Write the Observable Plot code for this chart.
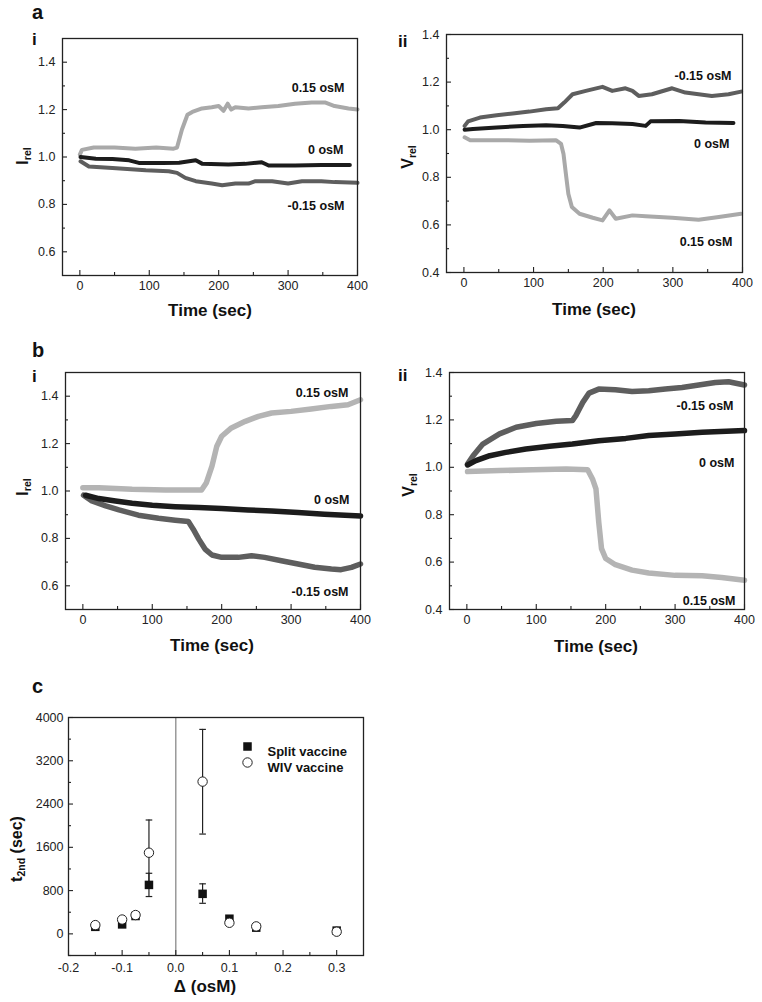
<!DOCTYPE html>
<html><head><meta charset="utf-8">
<script src="https://cdn.jsdelivr.net/npm/d3@7"></script>
<script src="https://cdn.jsdelivr.net/npm/@observablehq/plot@0.6"></script>
<style>
body{margin:0;background:#fff;}
#fig{position:relative;width:762px;height:1002px;overflow:hidden;background:#fff;font-family:"Liberation Sans",Arial,Helvetica,sans-serif;}
.panel{position:absolute}
#overlay{position:absolute;left:0;top:0;pointer-events:none}
</style></head><body><div id="fig"></div>
<script>
// ---------- Data: panel a-i (I_rel) ----------
const a1_t_p = [0,3,20,50,80,110,135,140,147,155,162,176,190,200,207,213,218,224,243,262,286,310,334,353,367,387,400];
const a1_v_p = [1.01,1.03,1.04,1.04,1.035,1.04,1.035,1.04,1.115,1.178,1.19,1.205,1.21,1.215,1.195,1.225,1.2,1.21,1.205,1.21,1.215,1.225,1.23,1.23,1.215,1.205,1.2];
const a1_t_0 = [1,23,47,71,85,119,143,167,176,214,238,262,272,310,348,389];
const a1_v_0 = [1.0,0.993,0.992,0.986,0.975,0.975,0.976,0.986,0.972,0.968,0.971,0.978,0.964,0.964,0.966,0.966];
const a1_t_m = [1,13,47,95,128,140,152,167,190,205,224,243,253,277,300,320,348,367,400];
const a1_v_m = [0.982,0.96,0.954,0.944,0.94,0.933,0.912,0.898,0.888,0.881,0.888,0.888,0.898,0.898,0.888,0.898,0.898,0.894,0.891];
// ---------- Data: panel a-ii (V_rel) ----------
const a2_t_m = [1,6,23,47,70,94,118,135,144,156,175,199,213,232,242,251,270,299,318,337,356,380,398];
const a2_v_m = [1.016,1.035,1.051,1.061,1.068,1.076,1.086,1.09,1.114,1.149,1.163,1.18,1.163,1.174,1.163,1.142,1.149,1.174,1.156,1.149,1.142,1.149,1.16];
const a2_t_0 = [1,13,47,85,118,142,166,190,213,242,261,268,309,347,387];
const a2_v_0 = [1.0,1.003,1.009,1.016,1.019,1.016,1.009,1.028,1.027,1.024,1.016,1.035,1.037,1.03,1.028];
const a2_t_p = [1,9,47,94,132,139.5,143,147,150,155,166,185,199,209,218,242,261,299,337,366,398];
const a2_v_p = [0.968,0.956,0.956,0.954,0.956,0.94,0.898,0.8,0.73,0.675,0.647,0.63,0.619,0.661,0.626,0.64,0.636,0.63,0.622,0.633,0.647];
// ---------- Data: panel b-i (I_rel) ----------
const b1_t_p = [0,23,71,119,171,178,186,193,200,214,234,253,272,300,329,358,382,400];
const b1_v_p = [1.014,1.014,1.007,1.004,1.004,1.035,1.105,1.189,1.231,1.266,1.294,1.315,1.329,1.336,1.346,1.357,1.364,1.385];
const b1_t_0 = [4,23,47,71,100,133,167,200,238,272,310,348,400];
const b1_v_0 = [0.982,0.968,0.958,0.948,0.94,0.934,0.93,0.926,0.92,0.916,0.909,0.902,0.895];
const b1_t_m = [1,13,33,52,80,109,133,152,159,167,176,186,200,224,243,262,286,310,334,358,372,387,400];
const b1_v_m = [0.982,0.958,0.937,0.92,0.898,0.885,0.877,0.871,0.839,0.797,0.755,0.73,0.72,0.72,0.727,0.72,0.706,0.692,0.678,0.671,0.668,0.678,0.692];
// ---------- Data: panel b-ii (V_rel) ----------
const b2_t_m = [1,9,23,47,71,100,129,152,157,167,176,190,214,238,262,286,310,334,358,377,400];
const b2_v_m = [1.014,1.049,1.098,1.141,1.169,1.185,1.194,1.197,1.218,1.274,1.313,1.33,1.327,1.32,1.323,1.33,1.337,1.347,1.358,1.361,1.347];
const b2_t_0 = [1,13,33,56,85,119,152,190,229,262,300,339,400];
const b2_v_0 = [1.01,1.028,1.049,1.063,1.077,1.089,1.098,1.112,1.122,1.134,1.141,1.148,1.155];
const b2_t_p = [1,47,95,143,174,181,186,190,194,200,214,238,262,300,339,367,400];
const b2_v_p = [0.982,0.986,0.99,0.993,0.99,0.951,0.909,0.769,0.657,0.615,0.589,0.566,0.554,0.544,0.542,0.535,0.523];
// ---------- Data: panel c ----------
const cDelta = [-0.15,-0.1,-0.075,-0.05,0.05,0.1,0.15,0.3];
const splitT = [130,175,330,905,740,280,115,60];
const wivT   = [162,265,348,1500,2815,205,138,40];
const splitErrX = [-0.05,0.05], splitErrLo = [690,565],  splitErrHi = [1120,925];
const wivErrX   = [-0.05,0.05], wivErrLo   = [900,1845], wivErrHi   = [2105,3780];
// ---------- Tick values & labels ----------
const timeMajor = [0,100,200,300,400];
const timeMinor = [50,150,250,350];
const iMajor = [0.6,0.8,1.0,1.2,1.4], iMinor = [0.7,0.9,1.1,1.3];
const vMajor = [0.4,0.6,0.8,1.0,1.2,1.4], vMinor = [0.5,0.7,0.9,1.1,1.3];
const cxMajor = [-0.2,-0.1,0.0,0.1,0.2,0.3], cxMinor = [-0.15,-0.05,0.05,0.15,0.25];
const cyMajor = [0,800,1600,2400,3200,4000], cyMinor = [-400,400,1200,2000,2800,3600];
const seriesNames = ["0.15 osM","0 osM","-0.15 osM"];
const legendNames = ["Split vaccine","WIV vaccine"];

const FONT = '"Liberation Sans", Arial, Helvetica, sans-serif';
const LIGHT = "#a9a9a9", DARK = "#5e5e5e", BLACK = "#1c1c1c";
const ser = (t, v) => t.map((tt, i) => ({t: tt, v: v[i]}));
const fig = document.getElementById("fig");

function place(node, left, top) {
  const d = document.createElement("div");
  d.className = "panel"; d.style.left = left + "px"; d.style.top = top + "px";
  d.appendChild(node); fig.appendChild(d);
}

// inward ticks: short rules from the frame edge into the plot; lengths converted from pixels to data units
function inwardTicks(xDom, yDom, fw, fh, xMaj, xMin, yMaj, yMin) {
  const ux = (xDom[1] - xDom[0]) / fw, uy = (yDom[1] - yDom[0]) / fh;
  const o = {stroke: "#222", strokeWidth: 1.1};
  return [
    Plot.ruleX(xMaj, {x: d => d, y1: () => yDom[0], y2: () => yDom[0] + 5 * uy, ...o}),
    Plot.ruleX(xMin, {x: d => d, y1: () => yDom[0], y2: () => yDom[0] + 3 * uy, ...o}),
    Plot.ruleY(yMaj, {y: d => d, x1: () => xDom[0], x2: () => xDom[0] + 5 * ux, ...o}),
    Plot.ruleY(yMin, {y: d => d, x1: () => xDom[0], x2: () => xDom[0] + 3 * ux, ...o})
  ];
}

const tDom = [-25, 400];
function tracePanel({left, top, width, height, m, yDomain, yMajor, yMinor, series, labels, sw}) {
  const fw = width - m[0] - m[1], fh = height - m[2] - m[3];
  const p = Plot.plot({
    width, height, marginLeft: m[0], marginRight: m[1], marginTop: m[2], marginBottom: m[3],
    style: {fontFamily: FONT, color: "#222", background: "transparent", overflow: "visible"},
    x: {domain: tDom},
    y: {domain: yDomain},
    marks: [
      ...series.map(s => Plot.line(s.data, {x: "t", y: "v", stroke: s.color, strokeWidth: sw, strokeLinejoin: "round", strokeLinecap: "round"})),
      Plot.axisX(timeMajor, {anchor: "bottom", tickSize: 0, tickPadding: 6, fontSize: 12.5, label: null}),
      Plot.axisY(yMajor, {anchor: "left", tickSize: 0, tickPadding: 7, fontSize: 12.5, label: null, tickFormat: d => d.toFixed(1)}),
      ...inwardTicks(tDom, yDomain, fw, fh, timeMajor, timeMinor, yMajor, yMinor),
      Plot.frame({stroke: "#222", strokeWidth: 1.3}),
      ...labels.map(l => Plot.text([l.text], {text: d => d, frameAnchor: "top-right", textAnchor: "end", dx: l.dx, dy: l.dy, fontWeight: "bold", fontSize: 12.5, fill: "#111"}))
    ]
  });
  place(p, left, top);
}

// a-i
tracePanel({left: 0, top: 0, width: 381, height: 300, m: [62, 24, 38, 25], yDomain: [0.5, 1.5], yMajor: iMajor, yMinor: iMinor, sw: 4,
  series: [{data: ser(a1_t_p, a1_v_p), color: LIGHT}, {data: ser(a1_t_m, a1_v_m), color: DARK}, {data: ser(a1_t_0, a1_v_0), color: BLACK}],
  labels: [{text: seriesNames[0], dx: -13, dy: 45}, {text: seriesNames[1], dx: -14, dy: 107}, {text: seriesNames[2], dx: -13, dy: 163}]});
// a-ii
tracePanel({left: 381, top: 0, width: 381, height: 300, m: [65, 20, 34, 28], yDomain: [0.4, 1.4], yMajor: vMajor, yMinor: vMinor, sw: 4,
  series: [{data: ser(a2_t_p, a2_v_p), color: LIGHT}, {data: ser(a2_t_m, a2_v_m), color: DARK}, {data: ser(a2_t_0, a2_v_0), color: BLACK}],
  labels: [{text: seriesNames[2], dx: -11, dy: 37}, {text: seriesNames[1], dx: -13, dy: 105}, {text: seriesNames[0], dx: -10, dy: 203}]});
// b-i
tracePanel({left: 0, top: 330, width: 381, height: 300, m: [65, 21, 42, 21], yDomain: [0.5, 1.5], yMajor: iMajor, yMinor: iMinor, sw: 5.5,
  series: [{data: ser(b1_t_p, b1_v_p), color: "#b4b4b4"}, {data: ser(b1_t_m, b1_v_m), color: DARK}, {data: ser(b1_t_0, b1_v_0), color: BLACK}],
  labels: [{text: seriesNames[0], dx: -12, dy: 16}, {text: seriesNames[1], dx: -11, dy: 123}, {text: seriesNames[2], dx: -12, dy: 215}]});
// b-ii
tracePanel({left: 381, top: 330, width: 381, height: 300, m: [68, 18, 42, 21], yDomain: [0.4, 1.4], yMajor: vMajor, yMinor: vMinor, sw: 5.5,
  series: [{data: ser(b2_t_p, b2_v_p), color: "#b4b4b4"}, {data: ser(b2_t_m, b2_v_m), color: DARK}, {data: ser(b2_t_0, b2_v_0), color: BLACK}],
  labels: [{text: seriesNames[2], dx: -11, dy: 29}, {text: seriesNames[1], dx: -10, dy: 86}, {text: seriesNames[0], dx: -9, dy: 224}]});

// c
const capSymbol = {draw(ctx, size) { const r = Math.sqrt(size / Math.PI); ctx.moveTo(-r, 0); ctx.lineTo(r, 0); }};
const splitPts = cDelta.map((d, i) => ({x: d, y: splitT[i]}));
const wivPts = cDelta.map((d, i) => ({x: d, y: wivT[i]}));
const errs = [
  ...splitErrX.map((d, i) => ({x: d, lo: splitErrLo[i], hi: splitErrHi[i]})),
  ...wivErrX.map((d, i) => ({x: d, lo: wivErrLo[i], hi: wivErrHi[i]}))
];
const cxDom = [-0.2, 0.35], cyDom = [-400, 4000];
const pc = Plot.plot({
  width: 381, height: 342, marginLeft: 68, marginRight: 18, marginTop: 57, marginBottom: 47,
  style: {fontFamily: FONT, color: "#222", background: "transparent", overflow: "visible"},
  x: {domain: cxDom},
  y: {domain: cyDom},
  marks: [
    Plot.ruleX([0], {stroke: "#999", strokeWidth: 1.5}),
    Plot.ruleX(errs, {x: "x", y1: "lo", y2: "hi", stroke: "#222", strokeWidth: 1.2}),
    Plot.dot(errs, {x: "x", y: "lo", symbol: capSymbol, r: 3.3, stroke: "#222", strokeWidth: 1.2, fill: "none"}),
    Plot.dot(errs, {x: "x", y: "hi", symbol: capSymbol, r: 3.3, stroke: "#222", strokeWidth: 1.2, fill: "none"}),
    Plot.dot(splitPts, {x: "x", y: "y", symbol: "square", r: 4.8, fill: "#111", stroke: "none"}),
    Plot.dot(wivPts, {x: "x", y: "y", symbol: "circle", r: 4.7, fill: "#fff", stroke: "#222", strokeWidth: 1}),
    Plot.axisX(cxMajor, {anchor: "bottom", tickSize: 0, tickPadding: 8, fontSize: 12.5, label: null, tickFormat: d => d.toFixed(1)}),
    Plot.axisY(cyMajor, {anchor: "left", tickSize: 0, tickPadding: 5, fontSize: 12.5, label: null, tickFormat: d => String(d)}),
    ...inwardTicks(cxDom, cyDom, 381 - 68 - 18, 342 - 57 - 47, cxMajor, cxMinor, cyMajor, cyMinor),
    Plot.frame({stroke: "#222", strokeWidth: 1.3}),
    // legend
    Plot.dot([legendNames[0]], {frameAnchor: "top-left", dx: 179, dy: 29, symbol: "square", r: 4.8, fill: "#111", stroke: "none"}),
    Plot.dot([legendNames[1]], {frameAnchor: "top-left", dx: 179, dy: 45, symbol: "circle", r: 4.7, fill: "#fff", stroke: "#222", strokeWidth: 1}),
    Plot.text([legendNames[0]], {text: d => d, frameAnchor: "top-left", textAnchor: "start", dx: 199, dy: 29, fontWeight: "bold", fontSize: 13, fill: "#111"}),
    Plot.text([legendNames[1]], {text: d => d, frameAnchor: "top-left", textAnchor: "start", dx: 199, dy: 45, fontWeight: "bold", fontSize: 13, fill: "#111"})
  ]
});
place(pc, 0, 660);

// ---------- Text overlay (panel letters, axis titles) ----------
const svg = d3.select(fig).append("svg").attr("id", "overlay").attr("width", 762).attr("height", 1002)
  .style("font-family", FONT).attr("fill", "#111").attr("font-weight", "bold");
const plain = [
  {x: 32, y: 19, t: "a", s: 20}, {x: 32, y: 45, t: "i", s: 17}, {x: 398, y: 47, t: "ii", s: 17},
  {x: 32, y: 357, t: "b", s: 20}, {x: 32, y: 382, t: "i", s: 17}, {x: 398, y: 381, t: "ii", s: 17},
  {x: 32, y: 693, t: "c", s: 20}
];
plain.forEach(d => svg.append("text").attr("x", d.x).attr("y", d.y).attr("font-size", d.s).text(d.t));
const xt = [
  {x: 210, y: 316, t: "Time (sec)"}, {x: 594, y: 315, t: "Time (sec)"},
  {x: 212, y: 651, t: "Time (sec)"}, {x: 596, y: 652, t: "Time (sec)"},
  {x: 205, y: 992, t: "\u0394 (osM)"}
];
xt.forEach(d => svg.append("text").attr("x", d.x).attr("y", d.y).attr("font-size", 17).attr("text-anchor", "middle").text(d.t));
function ylab(bx, cy, main, sub, tail) {
  const t = svg.append("text").attr("transform", `translate(${bx},${cy}) rotate(-90)`).attr("text-anchor", "middle").attr("font-size", 16);
  t.append("tspan").text(main);
  t.append("tspan").attr("font-size", 10.5).attr("dy", 3).text(sub);
  if (tail) t.append("tspan").attr("dy", -3).text(tail);
}
ylab(28, 156, "I", "rel");
ylab(413, 157, "V", "rel");
ylab(28, 487, "I", "rel");
ylab(414, 485, "V", "rel");
ylab(22, 849, "t", "2nd", " (sec)");
</script></body></html>
